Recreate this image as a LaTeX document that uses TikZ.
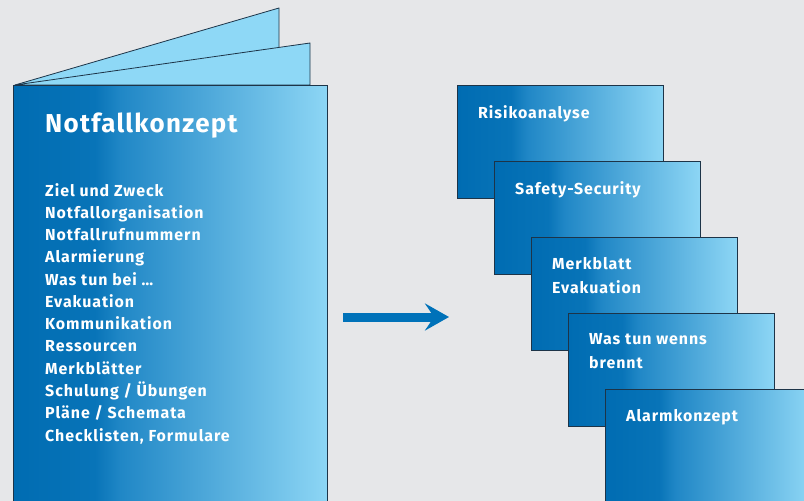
\documentclass[tikz,border=0pt]{standalone}
\usepackage{fontspec}
\setmainfont{Fira Sans}
\newfontfamily\labelfont[LetterSpace=6]{Fira Sans}
\newfontfamily\headfont[LetterSpace=5]{Fira Sans}
\usetikzlibrary{arrows.meta,positioning,calc}

\definecolor{bggray}{HTML}{E6E7E9}
\definecolor{dkblue}{HTML}{006CB2}
\definecolor{dkblueb}{HTML}{0874B8}
\definecolor{midblue}{HTML}{2087C6}
\definecolor{ltblue}{HTML}{8DD6F5}
\definecolor{pageblue}{HTML}{8ED8F6}
\definecolor{edgeblue}{HTML}{1D3448}
\definecolor{arrowblue}{HTML}{0072B9}

\pgfdeclarehorizontalshading{blueshade}{100bp}{color(0bp)=(dkblue); color(25bp)=(dkblue); color(38bp)=(dkblueb); color(42bp)=(midblue); color(75bp)=(ltblue); color(100bp)=(ltblue)}

\tikzset{
  page/.style={draw=edgeblue, line width=0.8bp, fill=pageblue, line join=round},
  cover/.style={draw=edgeblue, line width=0.8bp, shade, shading=blueshade,
    minimum width=314bp, minimum height=430bp, inner sep=0, anchor=north west},
  card/.style={draw=edgeblue, line width=0.8bp, shade, shading=blueshade,
    minimum width=206bp, minimum height=113bp, inner sep=0, anchor=north west},
  titletext/.style={text=white, font=\headfont\bfseries\fontsize{26}{30}\selectfont,
    anchor=west, inner sep=0},
  listtext/.style={text=white, font=\labelfont\bfseries\fontsize{16}{22.35}\selectfont,
    align=left, anchor=north west, inner sep=0},
  cardtext/.style={text=white, font=\labelfont\bfseries\fontsize{16}{24}\selectfont,
    align=left, anchor=north west, inner sep=0},
  flowarrow/.style={draw=arrowblue, line width=9bp,
    -{Stealth[length=24bp, width=27bp, inset=9bp]}}
}

\begin{document}
\begin{tikzpicture}[x=1bp, y=-1bp]
  \useasboundingbox (0,0) rectangle (804,501);
  \fill [bggray] (0,0) rectangle (804,501);
  \clip (0,0) rectangle (804,501);

  % booklet
  \draw [page] (15,85) -- (279,8) -- (279,85) -- cycle;
  \draw [page] (15,85) -- (310,43) -- (310,85) -- cycle;
  \node [cover] (booklet) at (13,85) {};
  \node [titletext] (title) at (45,126) {Notfallkonzept};
  \node [listtext] (contents) at (45,183) {%
    Ziel und Zweck\\
    Notfallorganisation\\
    Notfallrufnummern\\
    Alarmierung\\
    Was tun bei \dots\\
    Evakuation\\
    Kommunikation\\
    Ressourcen\\
    Merkbl\"atter\\
    Schulung / \"Ubungen\\
    Pl\"ane / Schemata\\
    Checklisten, Formulare};

  % arrow
  \coordinate (arrowtail) at (343,317);
  \coordinate (arrowtip) at (449,317);
  \draw [flowarrow] (arrowtail) -- (arrowtip);

  % documents
  \node [card] (risk) at (457,85) {};
  \node [cardtext] at ([xshift=21bp, yshift=-20bp]risk.north west) {Risikoanalyse};
  \node [card] (safety) at (494,161) {};
  \node [cardtext] at ([xshift=21bp, yshift=-20bp]safety.north west) {Safety-Security};
  \node [card] (sheet) at (531,237) {};
  \node [cardtext] at ([xshift=21bp, yshift=-20bp]sheet.north west) {Merkblatt\\Evakuation};
  \node [card] (fire) at (568,313) {};
  \node [cardtext] at ([xshift=21bp, yshift=-20bp]fire.north west) {Was tun wenns\\brennt};
  \node [card] (alarm) at (605,389) {};
  \node [cardtext] at ([xshift=21bp, yshift=-20bp]alarm.north west) {Alarmkonzept};
\end{tikzpicture}
\end{document}
